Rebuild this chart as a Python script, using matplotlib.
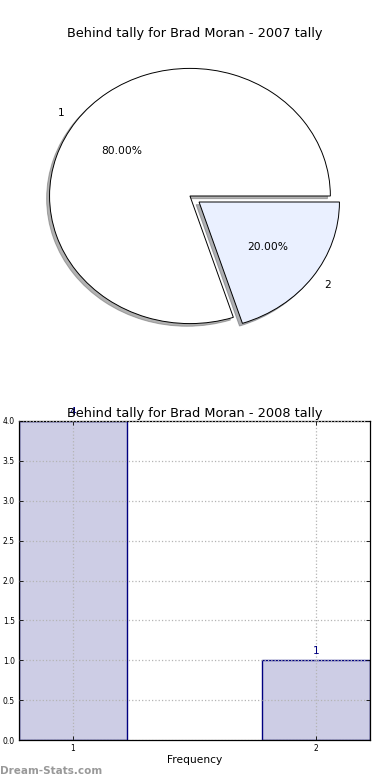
import matplotlib
matplotlib.use("Agg")
import matplotlib.pyplot as plt

# data
pie_labels = ["1", "2"]
pie_values = [4, 1]
pie_colors = ["#ffffff", "#eaf0ff"]

bar_cats = [1, 2]
bar_counts = [4, 1]

title_2007 = "Behind tally for Brad Moran - 2007 tally"
title_2008 = "Behind tally for Brad Moran - 2008 tally"

fig = plt.figure(figsize=(3.9, 7.8), dpi=100)

# top: pie chart (not equal aspect, like the old matplotlib default)
ax1 = fig.add_axes([19 / 390, 1 - 358.5 / 780, 351 / 390, 319 / 780])
wedges, texts, autotexts = ax1.pie(
    pie_values, labels=pie_labels, colors=pie_colors, explode=[0.04, 0.04],
    autopct="%1.2f%%", shadow=dict(ox=-0.015, oy=-0.015, shade=0.6),
    startangle=0,
    wedgeprops=dict(edgecolor="black", linewidth=0.7),
    textprops=dict(fontsize=7.7))
ax1.set_aspect("auto")
ax1.set_xlim(-1.25, 1.25)
ax1.set_ylim(-1.25, 1.25)
ax1.set_title(title_2007, fontsize=9.3, pad=2)

# bottom: frequency bars
ax2 = fig.add_axes([19 / 390, 1 - 740 / 780, 351 / 390, 319 / 780])
w = 0.444
bars = ax2.bar(bar_cats, bar_counts, width=w, color="#cdcde5",
               edgecolor="#000080", linewidth=1.0, zorder=1)
for x, v in zip(bar_cats, bar_counts):
    ax2.text(x, v + 0.05, str(v), ha="center", va="bottom",
             color="#000080", fontsize=7.7)
ax2.set_xlim(bar_cats[0] - w / 2, bar_cats[-1] + w / 2)
ax2.set_ylim(0, 4)
ax2.set_xticks(bar_cats)
ax2.set_yticks([0, 0.5, 1, 1.5, 2, 2.5, 3, 3.5, 4])
ax2.yaxis.set_major_formatter(matplotlib.ticker.FormatStrFormatter("%.1f"))
ax2.tick_params(labelsize=5.5, direction="in", top=True, right=True,
                length=3, width=0.6, pad=3)
ax2.grid(True, color="#b4b4b4", linestyle=":", linewidth=0.9)
ax2.set_axisbelow(False)
ax2.set_xlabel("Frequency", fontsize=7.7, labelpad=1)
ax2.set_title(title_2008, fontsize=9.3, pad=3)
for s in ax2.spines.values():
    s.set_linewidth(0.9)

fig.text(0.0, 1 - 771 / 780, "Dream-Stats.com", fontsize=7.5, color="#999999",
         fontweight="bold", va="center", ha="left")

fig.savefig("out.png", dpi=100)
